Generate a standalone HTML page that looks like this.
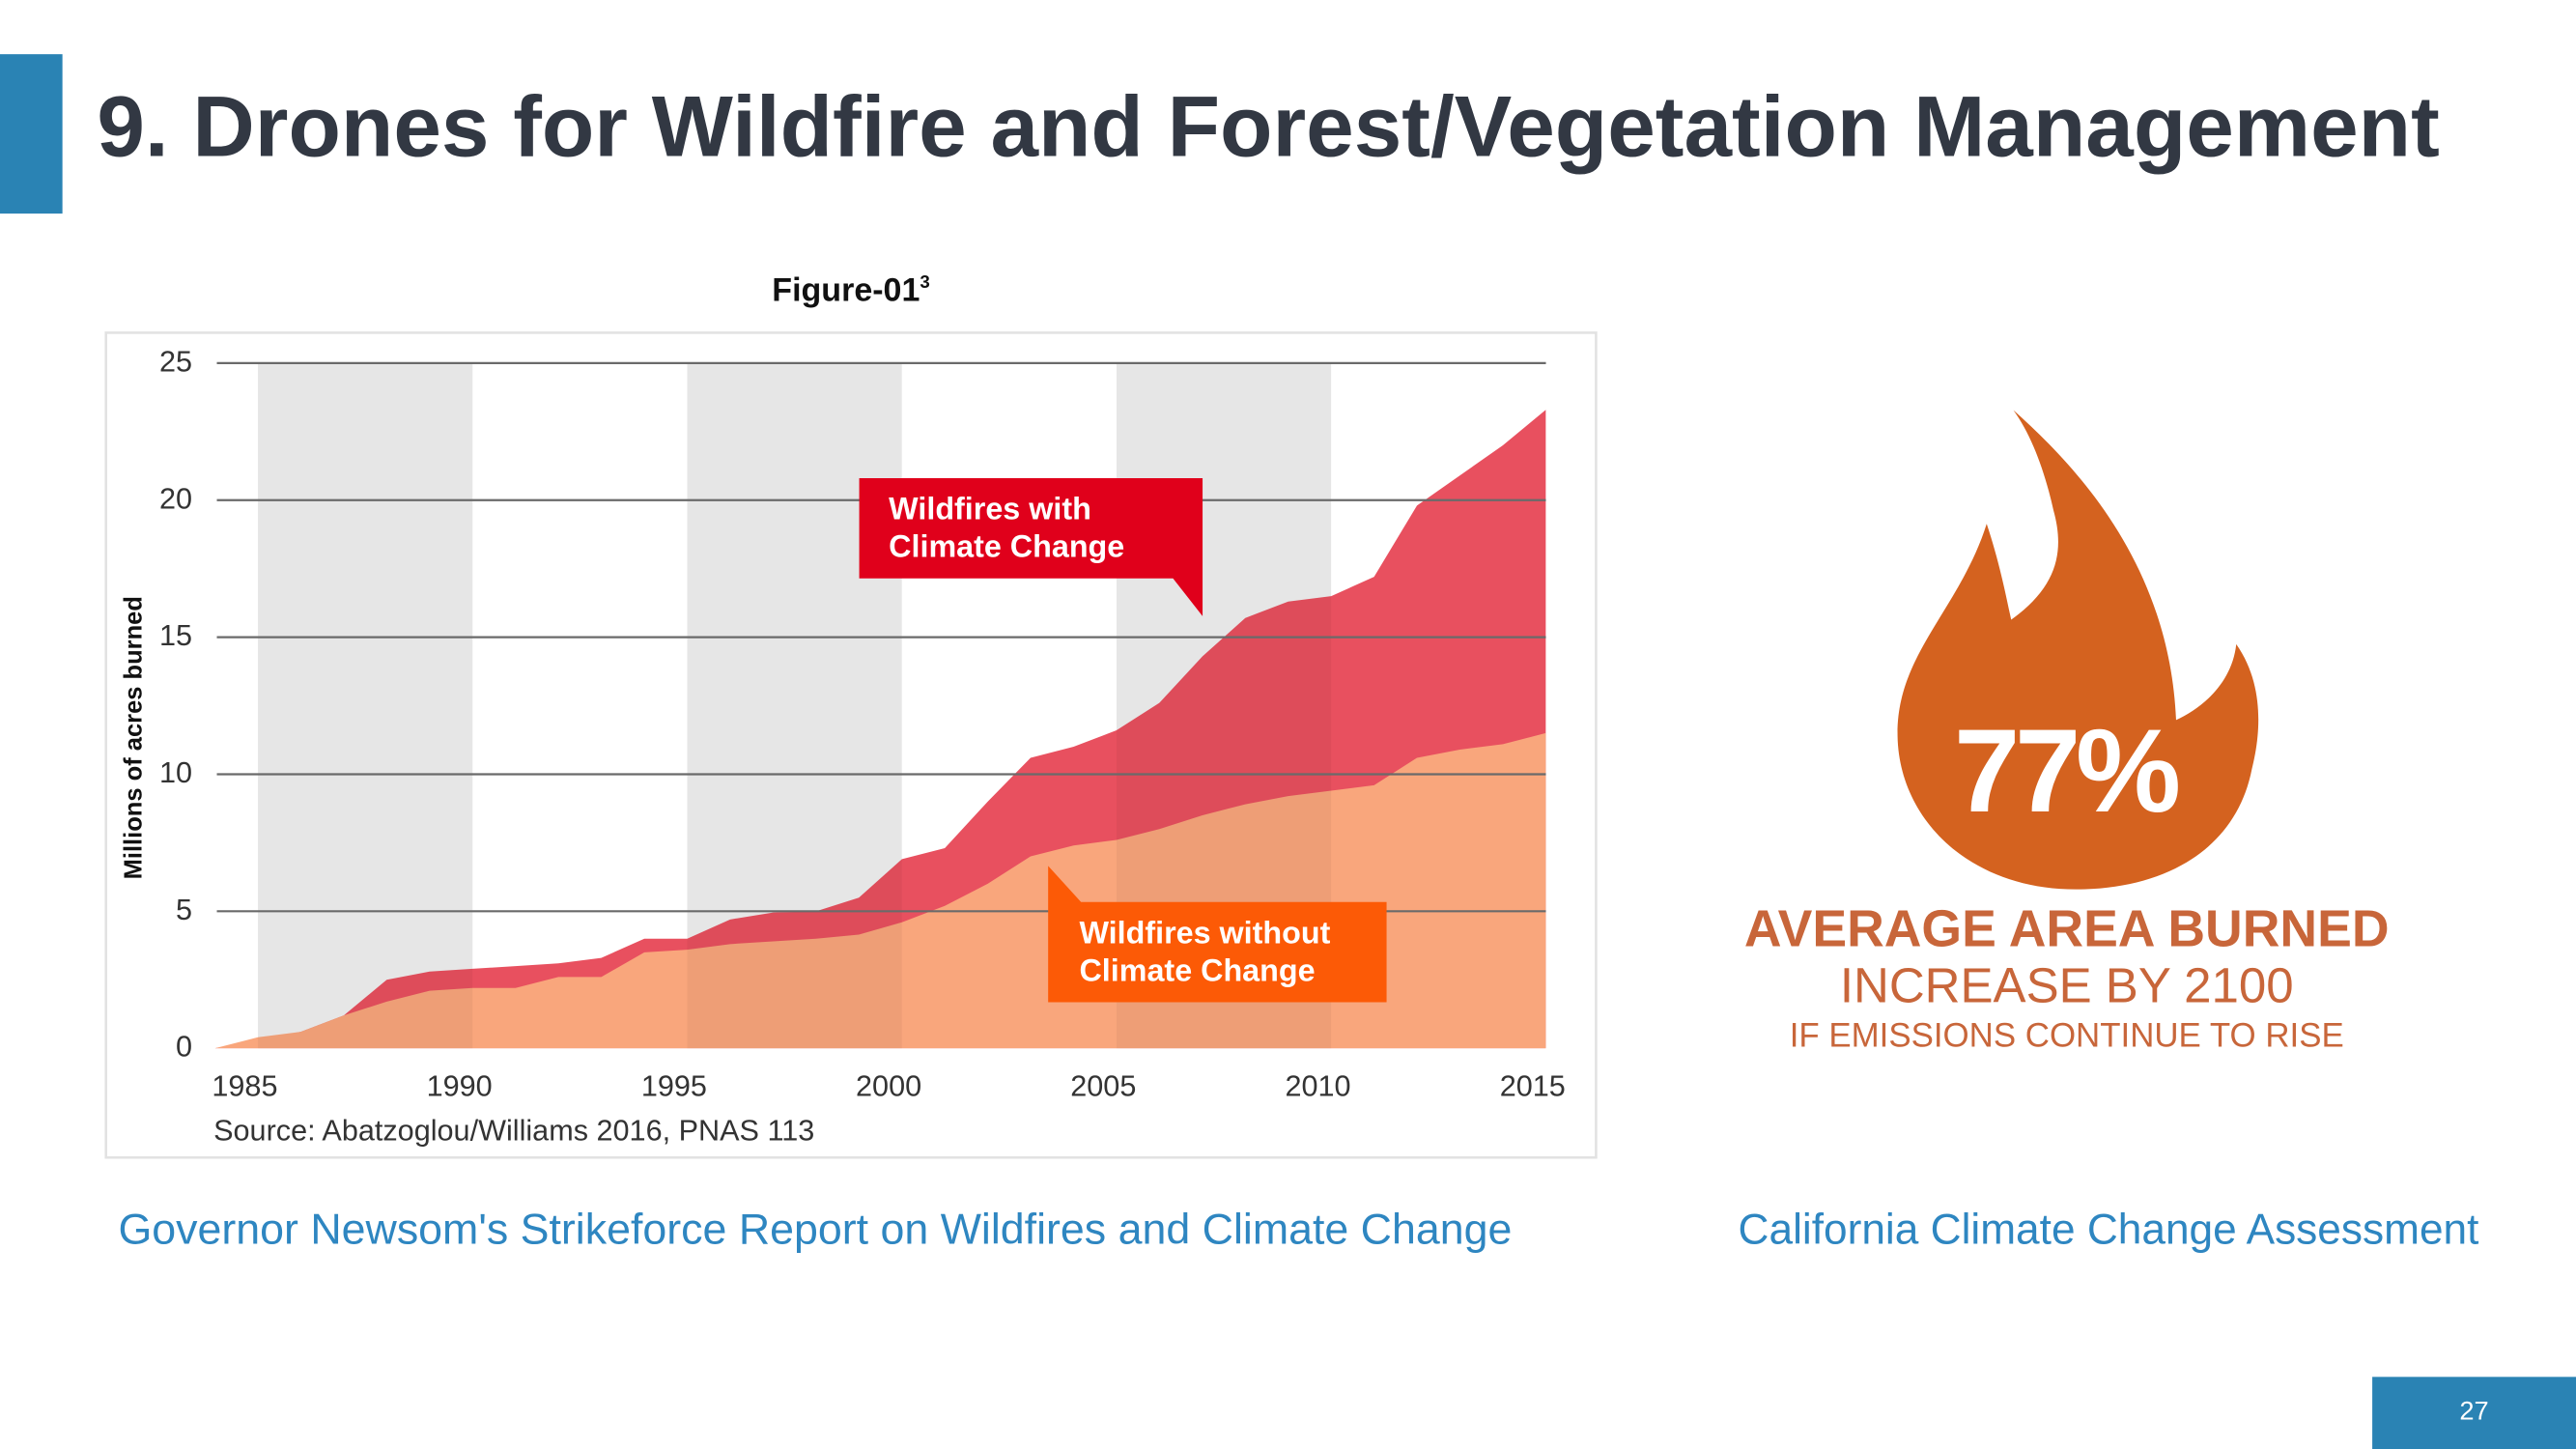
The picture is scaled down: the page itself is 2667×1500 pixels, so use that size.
<!DOCTYPE html>
<html><head><meta charset="utf-8">
<style>
html,body{margin:0;padding:0;background:#fff;overflow:hidden}
body{width:2667px;height:1500px}
#stage{position:absolute;left:0;top:0;width:1568px;height:882px;transform:scale(1.70089);transform-origin:0 0;font-family:"Liberation Sans",sans-serif}
.abs{position:absolute}
</style></head>
<body>
<div id="stage">
  <div class="abs" style="left:0;top:33px;width:38px;height:97px;background:#2a83b4"></div>
  <div class="abs" style="left:59px;top:48px;font-size:52.4px;font-weight:bold;color:#323843;white-space:nowrap;letter-spacing:0px">9. Drones for Wildfire and Forest/Vegetation Management</div>
  <div class="abs" style="left:418px;top:166px;width:200px;text-align:center;font-size:20px;font-weight:bold;color:#111">Figure-01<sup style="font-size:11px">3</sup></div>

  <svg id="chart" class="abs" style="left:0;top:0" width="1568" height="882" viewBox="0 0 1568 882"></svg>

  <svg class="abs" style="left:0;top:0" width="1568" height="882">
    <g transform="translate(1046.5,229.3) scale(0.2713)">
      <path fill="#d4621f" d="M660,75 C800,200 1010,420 1025,770 C1080,745 1150,690 1160,600 C1230,700 1210,820 1195,880 C1160,1060 1000,1150 800,1150 C560,1150 400,990 400,800 C400,620 540,520 600,330 C630,420 645,500 655,545 C760,470 775,390 750,300 C730,210 700,130 660,75 Z"/>
    </g>
    <text x="1257" y="494" text-anchor="middle" font-family="Liberation Sans" font-weight="bold" font-size="72" fill="#fff" letter-spacing="-3">77%</text>
    <text x="1258" y="576" text-anchor="middle" font-family="Liberation Sans" font-weight="bold" font-size="31.5" fill="#c8663a">AVERAGE AREA BURNED</text>
    <text x="1258" y="610" text-anchor="middle" font-family="Liberation Sans" font-size="30" fill="#c8663a">INCREASE BY 2100</text>
    <text x="1258" y="637" text-anchor="middle" font-family="Liberation Sans" font-size="20.5" fill="#c8663a">IF EMISSIONS CONTINUE TO RISE</text>
  </svg>

  <div class="abs" style="left:72px;top:733px;font-size:26.3px;color:#2e86c1;white-space:nowrap">Governor Newsom's Strikeforce Report on Wildfires and Climate Change</div>
  <div class="abs" style="left:1058px;top:733px;font-size:26px;color:#2e86c1;white-space:nowrap">California Climate Change Assessment</div>
  <div class="abs" style="left:1444px;top:838px;width:124px;height:44px;background:#2a83b4;color:#fff;font-size:16px;line-height:44px;text-align:center">27</div>
</div>
<script>
const years = [1984,1985,1986,1987,1988,1989,1990,1991,1992,1993,1994,1995,1996,1997,1998,1999,2000,2001,2002,2003,2004,2005,2006,2007,2008,2009,2010,2011,2012,2013,2014,2015];
const withClimateChange = [0,0.3,0.6,1.2,2.5,2.8,2.9,3.0,3.1,3.3,4.0,4.0,4.7,4.95,5.0,5.5,6.9,7.3,9.0,10.6,11.0,11.6,12.6,14.3,15.7,16.3,16.5,17.2,19.8,20.9,22.0,23.3];
const withoutClimateChange = [0,0.4,0.6,1.2,1.7,2.1,2.2,2.2,2.6,2.6,3.5,3.6,3.8,3.9,4.0,4.15,4.6,5.2,6.0,7.0,7.4,7.6,8.0,8.5,8.9,9.2,9.4,9.6,10.6,10.9,11.1,11.5];
const yTicks = [0,5,10,15,20,25];
const xTickLabels = [1985,1990,1995,2000,2005,2010,2015];
const shadedBands = [[1985,1990],[1995,2000],[2005,2010]];

const NS='http://www.w3.org/2000/svg';
const svg=document.getElementById('chart');
const X0=157, PX_PER_YEAR=26.13, Y0=638, PX_PER_UNIT=16.68;
function xs(yr){return X0+(yr-1985)*PX_PER_YEAR;}
function ys(v){return Y0-v*PX_PER_UNIT;}
function mk(tag,attrs,parent){const e=document.createElementNS(NS,tag);for(const k in attrs)e.setAttribute(k,attrs[k]);(parent||svg).appendChild(e);return e;}

const frame=mk('rect',{x:64.5,y:202.5,width:907,height:502,fill:'#fff',stroke:'#e2e2e2','stroke-width':1.5});



shadedBands.forEach(b=>{
  const r=mk('rect',{x:xs(b[0]),y:ys(25),width:xs(b[1])-xs(b[0]),height:ys(0)-ys(25),fill:'#f1f1f1'});
  
  
});

function areaPath(top,bottom){
  let d='';
  for(let i=0;i<years.length;i++){d+=(i?'L':'M')+xs(years[i]).toFixed(1)+','+ys(top[i]).toFixed(1);}
  for(let i=years.length-1;i>=0;i--){d+='L'+xs(years[i]).toFixed(1)+','+ys(bottom?bottom[i]:0).toFixed(1);}
  return d+'Z';
}
const zeros=years.map(()=>0);
const aTop=mk('path',{d:areaPath(withClimateChange,zeros),fill:'#e8505f'});


const aBot=mk('path',{d:areaPath(withoutClimateChange,zeros),fill:'#f9a67c'});



shadedBands.forEach(b=>{
  const r=mk('rect',{x:xs(b[0]),y:ys(25),width:xs(b[1])-xs(b[0]),height:ys(0)-ys(25),fill:'#000','fill-opacity':0.045});
  
  
});

yTicks.forEach(t=>{
  if(t>0){
    const g=mk('line',{x1:132,x2:941,y1:ys(t),y2:ys(t),stroke:'#6a6a6a','stroke-width':1.3});
    
    
  }
  const l=mk('text',{x:117,y:ys(t)+5,'text-anchor':'end','font-size':18,fill:'#333','font-family':'Liberation Sans'});
  l.textContent=t;
  
  
});
xTickLabels.forEach(t=>{
  const l=mk('text',{x:xs(t)-8,y:667,'text-anchor':'middle','font-size':18,fill:'#333','font-family':'Liberation Sans'});
  l.textContent=t;
  
  
});
const yt=mk('text',{x:0,y:0,transform:'translate(86,449) rotate(-90)','text-anchor':'middle','font-size':15,'font-weight':'bold',fill:'#111','font-family':'Liberation Sans'});
yt.textContent='Millions of acres burned';


const src=mk('text',{x:130,y:694,'font-size':18,fill:'#333','font-family':'Liberation Sans'});
src.textContent='Source: Abatzoglou/Williams 2016, PNAS 113';



const c1=mk('path',{d:'M523,291 H732 V375 L714,352 H523 Z',fill:'#e0001b'});


const t1=mk('text',{x:541,y:316,'font-size':19,'font-weight':'bold',fill:'#fff','font-family':'Liberation Sans'});
t1.innerHTML='<tspan x="541">Wildfires with</tspan><tspan x="541" dy="23">Climate Change</tspan>';


const c2=mk('path',{d:'M638,527 L658,549 H844 V610 H638 Z',fill:'#fc5a06'});


const t2=mk('text',{x:657,y:574,'font-size':19,'font-weight':'bold',fill:'#fff','font-family':'Liberation Sans'});
t2.innerHTML='<tspan x="657">Wildfires without</tspan><tspan x="657" dy="23">Climate Change</tspan>';


</script>
</body></html>
